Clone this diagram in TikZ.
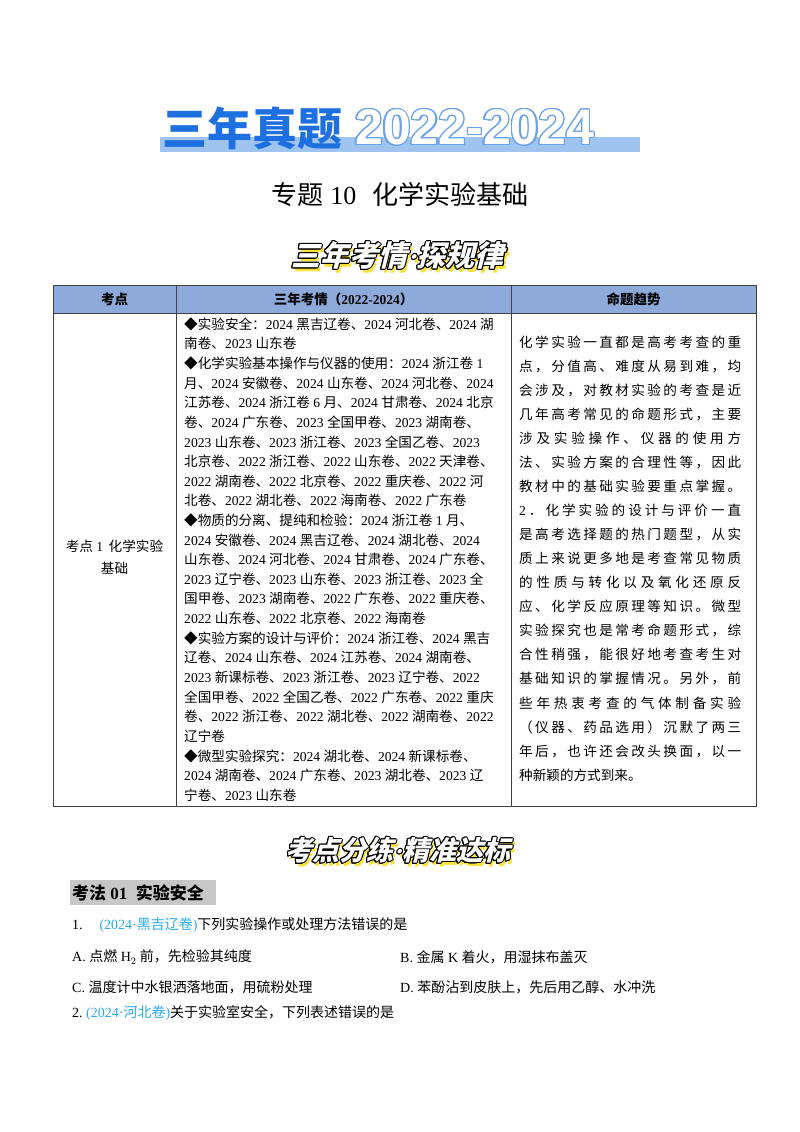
\documentclass[tikz,border=0pt]{standalone}
\usepackage{fontspec}
\usepackage{contour}
\setmainfont{Liberation Serif}
\setsansfont{Liberation Sans}
\newfontfamily\cjk{Noto Sans CJK SC}
\def\latinfam{\rmfamily}
\XeTeXinterchartokenstate=1
\newXeTeXintercharclass\cjkclass
\newcount\cc
\def\setrange#1#2{\cc=#1\relax\loop\XeTeXcharclass\cc=\cjkclass\advance\cc by 1\relax\ifnum\cc<#2\repeat}
\setrange{"25A0}{"2600}
\setrange{"3000}{"3040}
\setrange{"4E00}{"A000}
\setrange{"FF00}{"FFF0}
\XeTeXinterchartoks 0 \cjkclass = {\cjk}
\XeTeXinterchartoks 4095 \cjkclass = {\cjk}
\XeTeXinterchartoks \cjkclass 0 = {\latinfam}
\XeTeXinterchartoks \cjkclass 4095 = {\latinfam}
\def\spr#1{\spa#1\relax}
\def\spa#1{#1\spb}
\def\spb#1{\ifx#1\relax\else\hfil#1\expandafter\spb\fi}
\definecolor{hdr}{RGB}{142,170,219}
\definecolor{tblue}{RGB}{30,111,224}
\definecolor{lblue}{RGB}{160,196,240}
\definecolor{src}{RGB}{40,170,240}
\definecolor{sy}{RGB}{250,225,60}
\begin{document}
\begin{tikzpicture}[x=1pt,y=-1pt,
  mid/.style={anchor=west,inner sep=0pt,font=\fontsize{13.6}{14}\selectfont},
  rt/.style={anchor=west,inner sep=0pt,font=\fontsize{13.6}{14}\selectfont},
  q/.style={anchor=west,inner sep=0pt,font=\fontsize{14}{15}\selectfont},
  hd/.style={inner sep=0pt,font=\fontsize{13.5}{14}\selectfont\bfseries}]
\useasboundingbox (0,0) rectangle (800,1132);
% banner
\fill[lblue] (160,137) rectangle (640,152);
\node[inner sep=0pt,anchor=west,font=\fontsize{45}{45}\selectfont\bfseries,text=tblue] (b1) at (162,128) {三年真题};
\node[inner sep=0pt,anchor=west,font=\fontsize{50}{50}\selectfont\sffamily\bfseries] (b2) at (355,128) {\contourlength{1.3pt}\contour{lblue!60!tblue}{\textcolor{white}{2022-2024}}};
\node[inner sep=0pt,font=\fontsize{26}{26}\selectfont] (t) at (400,195) {专题 10\hspace{0.6em}化学实验基础};
% section banner 1
\node[inner sep=0pt,font=\fontsize{29}{29}\selectfont\bfseries,text=sy,xslant=0.25,transform shape] (s1y) at (403,259) {三年考情·探规律};
\node[inner sep=0pt,font=\fontsize{29}{29}\selectfont\bfseries,xslant=0.25,transform shape] (s1) at (400,256) {\contourlength{1pt}\contour{black}{\textcolor{white}{三年考情·探规律}}};
% table
\fill[hdr] (53,285) rectangle (756,313);
\draw[black!75,line width=0.8pt] (53,285) rectangle (756,806) (53,313) -- (756,313)
  (176,285) -- (176,806) (511,285) -- (511,806);
\node[hd] (h1) at (114.5,299) {考点};
\node[hd] (h2) at (343.5,299) {三年考情（2022-2024）};
\node[hd] (h3) at (633.5,299) {命题趋势};
\node[inner sep=0pt,font=\fontsize{13.6}{14}\selectfont,align=center] (c1) at (114.5,557) {考点 1\hspace{0.4em}化学实验\\[8pt]基础};
\foreach \t [count=\i from 0] in {
◆实验安全：2024 黑吉辽卷、2024 河北卷、2024 湖,
南卷、2023 山东卷,
◆化学实验基本操作与仪器的使用：2024 浙江卷 1,
月、2024 安徽卷、2024 山东卷、2024 河北卷、2024,
江苏卷、2024 浙江卷 6 月、2024 甘肃卷、2024 北京,
卷、2024 广东卷、2023 全国甲卷、2023 湖南卷、,
2023 山东卷、2023 浙江卷、2023 全国乙卷、2023,
北京卷、2022 浙江卷、2022 山东卷、2022 天津卷、,
2022 湖南卷、2022 北京卷、2022 重庆卷、2022 河,
北卷、2022 湖北卷、2022 海南卷、2022 广东卷,
◆物质的分离、提纯和检验：2024 浙江卷 1 月、,
2024 安徽卷、2024 黑吉辽卷、2024 湖北卷、2024,
山东卷、2024 河北卷、2024 甘肃卷、2024 广东卷、,
2023 辽宁卷、2023 山东卷、2023 浙江卷、2023 全,
国甲卷、2023 湖南卷、2022 广东卷、2022 重庆卷、,
2022 山东卷、2022 北京卷、2022 海南卷,
◆实验方案的设计与评价：2024 浙江卷、2024 黑吉,
辽卷、2024 山东卷、2024 江苏卷、2024 湖南卷、,
2023 新课标卷、2023 浙江卷、2023 辽宁卷、2022,
全国甲卷、2022 全国乙卷、2022 广东卷、2022 重庆,
卷、2022 浙江卷、2022 湖北卷、2022 湖南卷、2022,
辽宁卷,
◆微型实验探究：2024 湖北卷、2024 新课标卷、,
2024 湖南卷、2024 广东卷、2023 湖北卷、2023 辽,
宁卷、2023 山东卷}
  \node[mid] (m\i) at (184,324+19.63*\i) {\t};
\foreach \t [count=\i from 0] in {
化学实验一直都是高考考查的重,
点，分值高、难度从易到难，均,
会涉及，对教材实验的考查是近,
几年高考常见的命题形式，主要,
涉及实验操作、仪器的使用方,
法、实验方案的合理性等，因此,
教材中的基础实验要重点掌握。,
2．化学实验的设计与评价一直,
是高考选择题的热门题型，从实,
质上来说更多地是考查常见物质,
的性质与转化以及氧化还原反,
应、化学反应原理等知识。微型,
实验探究也是常考命题形式，综,
合性稍强，能很好地考查考生对,
基础知识的掌握情况。另外，前,
些年热衷考查的气体制备实验,
（仪器、药品选用）沉默了两三,
年后，也许还会改头换面，以一}
  \node[rt] (r\i) at (519,342+24.06*\i) {\makebox[222pt][s]{\expandafter\spr\expandafter{\t}}};
\node[rt] (r18) at (519,775) {种新颖的方式到来。};
% section banner 2
\node[inner sep=0pt,font=\fontsize{27}{27}\selectfont\bfseries,text=sy,xslant=0.25,transform shape] (s2y) at (403,854) {考点分练·精准达标};
\node[inner sep=0pt,font=\fontsize{27}{27}\selectfont\bfseries,xslant=0.25,transform shape] (s2) at (400,851) {\contourlength{1pt}\contour{black}{\textcolor{white}{考点分练·精准达标}}};
% section heading
\fill[black!22] (70,880) rectangle (216,905);
\node[anchor=west,inner sep=0pt,font=\fontsize{17}{17}\selectfont\bfseries] (k1) at (72,892.5) {考法 01\hspace{0.5em}实验安全};
\node[q] (q1) at (72,925) {1.\hspace{1.2em}\textcolor{src}{(2024·黑吉辽卷)}下列实验操作或处理方法错误的是};
\node[q] (qa) at (72,957) {A.\ 点燃 $\mathrm{H}_2$ 前，先检验其纯度};
\node[q] (qb) at (400,957) {B.\ 金属 K 着火，用湿抹布盖灭};
\node[q] (qc) at (72,987) {C.\ 温度计中水银洒落地面，用硫粉处理};
\node[q] (qd) at (400,987) {D.\ 苯酚沾到皮肤上，先后用乙醇、水冲洗};
\node[q] (q2) at (72,1013) {2.\ \textcolor{src}{(2024·河北卷)}关于实验室安全，下列表述错误的是};
\end{tikzpicture}
\end{document}
